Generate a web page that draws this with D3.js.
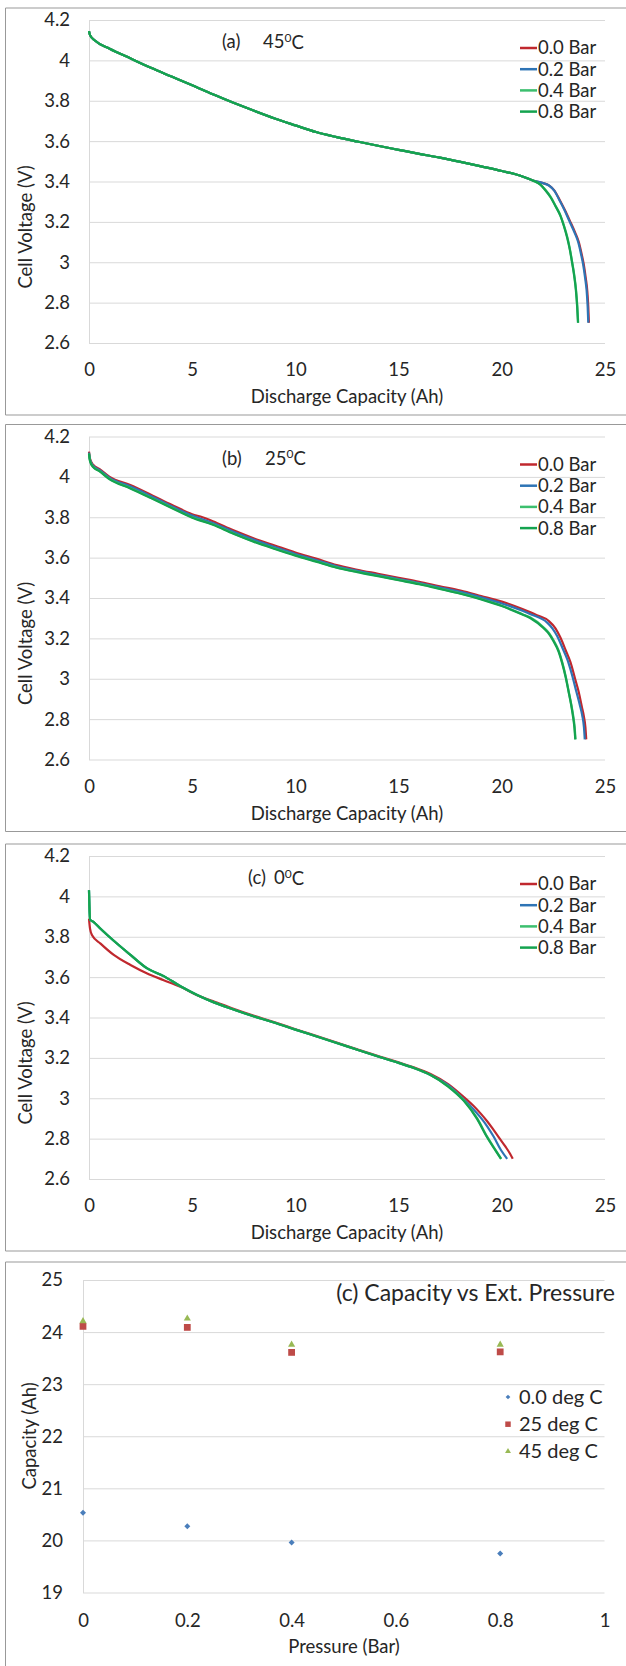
<!DOCTYPE html>
<html>
<head>
<meta charset="utf-8">
<script src="https://d3js.org/d3.v7.min.js"></script>
<style>
  body { margin: 0; background: #fff; }
  svg text { font-family: Lato, "Open Sans", sans-serif; fill: #262626; }
</style>
</head>
<body>
<svg id="chart" width="626" height="1666"></svg>
<script>
(function() {
  // {{{ data
  var pressureNames = ["0.0 Bar", "0.2 Bar", "0.4 Bar", "0.8 Bar"];
  var voltTicks = [2.6, 2.8, 3.0, 3.2, 3.4, 3.6, 3.8, 4.0, 4.2];
  var capTicks = [0, 5, 10, 15, 20, 25];

  // 45 C : [discharge capacity Ah, cell voltage V]
  var head45 = [[0,4.145],[0.05,4.125],[0.3,4.097],[1,4.058],[2,4.01],[3,3.963],[4,3.92],[5,3.877],[6,3.832],
    [7,3.79],[8,3.75],[9,3.712],[10,3.678],[11,3.645],[12,3.62],[13,3.598],[14,3.577],[15,3.557],
    [16,3.537],[17,3.518],[18,3.497],[19,3.475],[20,3.452],[21,3.425],[21.5,3.405]];
  var tail45_p00 = [[22,3.392],[22.3,3.38],[22.55,3.355],[22.8,3.31],[23.05,3.26],[23.3,3.205],[23.55,3.148],
    [23.73,3.10],[23.87,3.04],[23.97,2.99],[24.07,2.92],[24.14,2.86],[24.19,2.78],[24.22,2.70]];
  var tail45_p02 = [[22,3.392],[22.3,3.379],[22.55,3.354],[22.78,3.31],[23.03,3.26],[23.27,3.205],[23.52,3.148],
    [23.7,3.10],[23.84,3.04],[23.94,2.99],[24.04,2.92],[24.11,2.86],[24.16,2.78],[24.19,2.70]];
  var tail45_p04 = [[21.88,3.384],[22.1,3.36],[22.36,3.325],[22.6,3.28],[22.84,3.232],[23.0,3.185],[23.17,3.126],
    [23.3,3.065],[23.41,3.0],[23.52,2.93],[23.6,2.86],[23.66,2.78],[23.7,2.70]];
  var tail45_p08 = [[21.88,3.383],[22.1,3.358],[22.36,3.322],[22.6,3.278],[22.84,3.23],[23.0,3.182],[23.17,3.12],
    [23.3,3.06],[23.41,2.995],[23.51,2.93],[23.59,2.86],[23.65,2.78],[23.69,2.70]];

  // 25 C
  var v25_p00 = [[0,4.125],[0.05,4.09],[0.2,4.06],[0.5,4.04],[1,4.0],[2,3.96],[3,3.912],[4,3.862],[5,3.815],
    [5.5,3.80],[6,3.78],[7,3.735],[8,3.695],[9,3.66],[10,3.625],[11,3.595],[12,3.563],[13,3.54],[14,3.52],
    [15,3.50],[16,3.48],[17,3.458],[18,3.437],[19,3.41],[20,3.382],[21,3.345],[21.7,3.315],[22.28,3.286],
    [22.6,3.25],[22.84,3.204],[23.1,3.14],[23.33,3.081],[23.55,3.0],[23.73,2.933],[23.88,2.86],[23.97,2.817],
    [24.05,2.76],[24.09,2.70]];
  var v25_p02 = [[0,4.12],[0.05,4.085],[0.2,4.055],[0.5,4.035],[1,3.995],[2,3.953],[3,3.905],[4,3.855],[5,3.808],
    [6,3.772],[7,3.728],[8,3.688],[9,3.652],[10,3.618],[11,3.588],[12,3.557],[13,3.535],[14,3.514],[15,3.494],
    [16,3.474],[17,3.452],[18,3.43],[19,3.403],[20,3.373],[21,3.337],[21.39,3.32],[22.2,3.278],[22.45,3.25],
    [22.68,3.212],[22.95,3.15],[23.17,3.097],[23.4,3.02],[23.62,2.933],[23.78,2.87],[23.9,2.817],[23.98,2.76],
    [24.02,2.70]];
  var v25_p04 = [[0,4.115],[0.05,4.08],[0.2,4.05],[0.5,4.03],[1,3.99],[2,3.945],[3,3.897],[4,3.848],[5,3.80],
    [6,3.765],[7,3.72],[8,3.68],[9,3.645],[10,3.612],[11,3.582],[12,3.552],[13,3.53],[14,3.51],[15,3.49],
    [16,3.47],[17,3.447],[18,3.423],[19,3.395],[20,3.362],[21,3.32],[21.39,3.303],[22.03,3.254],[22.3,3.225],
    [22.52,3.188],[22.75,3.14],[22.93,3.081],[23.1,3.01],[23.25,2.933],[23.37,2.87],[23.46,2.817],[23.53,2.76],
    [23.57,2.70]];
  var v25_p08 = [[0,4.115],[0.05,4.078],[0.2,4.048],[0.5,4.028],[1,3.988],[2,3.943],[3,3.895],[4,3.846],[5,3.798],
    [6,3.763],[7,3.718],[8,3.678],[9,3.643],[10,3.61],[11,3.58],[12,3.55],[13,3.528],[14,3.508],[15,3.488],
    [16,3.468],[17,3.445],[18,3.421],[19,3.393],[20,3.36],[21,3.318],[21.39,3.3],[22.03,3.25],[22.3,3.22],
    [22.52,3.183],[22.75,3.135],[22.93,3.075],[23.1,3.005],[23.25,2.928],[23.37,2.865],[23.45,2.812],[23.52,2.755],
    [23.56,2.70]];

  // 0 C
  var v0_p00 = [[0,3.89],[0.05,3.84],[0.15,3.807],[0.56,3.766],[1.2,3.71],[2.01,3.66],[2.82,3.618],[3.62,3.585],
    [4.43,3.552],[5.24,3.51],[6,3.482],[7,3.443],[8,3.408],[9,3.376],[10,3.342],[11,3.309],[12,3.276],[13,3.242],
    [14.12,3.205],[15,3.178],[15.74,3.153],[16.55,3.12],[17.4,3.07],[18.16,3.006],[18.6,2.965],[18.97,2.925],
    [19.3,2.885],[19.61,2.842],[19.9,2.80],[20.18,2.76],[20.4,2.725],[20.53,2.70]];
  var head0 = [[0,4.03],[0.02,3.95],[0.05,3.885],[0.23,3.873],[0.56,3.84],[1.2,3.78],[2.01,3.71],[2.82,3.643],
    [3.62,3.605],[4.43,3.555],[5.24,3.512],[6.05,3.475],[7,3.44],[8,3.405],[9,3.374],[10,3.34],[11,3.307],
    [12,3.274],[13,3.24],[14.12,3.203],[15,3.175],[15.74,3.15],[16.55,3.115]];
  var tail0_p02 = [[17.4,3.065],[18.16,2.994],[18.97,2.905],[19.3,2.86],[19.61,2.809],[19.95,2.745],[20.26,2.70]];
  var tail0_p04 = [[17.4,3.06],[18.16,2.99],[18.81,2.90],[19.29,2.81],[19.7,2.743],[19.97,2.70]];
  var tail0_p08 = [[17.4,3.058],[18.16,2.987],[18.8,2.898],[19.28,2.808],[19.69,2.742],[19.96,2.70]];

  // capacity vs external pressure
  var pressureBar = [0, 0.2, 0.4, 0.8];
  var cap0C = [20.53, 20.27, 19.96, 19.75];
  var cap25C = [24.11, 24.09, 23.61, 23.62];
  var cap45C = [24.21, 24.26, 23.76, 23.76];
  var capNames = ["0.0 deg C", "25 deg C", "45 deg C"];
  var capAxisTicks = [19, 20, 21, 22, 23, 24, 25];
  var pressTicks = [0, 0.2, 0.4, 0.6, 0.8, 1];
  // }}}

  var lineColors = ["#c0282e", "#2e74b5", "#3cbf6e", "#14a34f"];
  var markColors = ["#4a7ebb", "#be4b48", "#98b954"];
  var GRID = "#d9d9d9";
  var FS = 18.5;

  var svg = d3.select("#chart");

  // plain number labels: 4.2, 4, 3.8 ... 0.2, 1
  function plainNum(d) { return String(+d.toFixed(1)); }

  function drawFrame(top, height) {
    var d = "M626," + (top + 0.5) + "H5.5V" + (top + height + 0.5);
    if (top + height < 1666) d += "H626";
    svg.append("path").attr("d", d)
      .attr("fill", "none").attr("stroke", "#999").attr("stroke-width", 1);
  }

  function styleAxis(g) {
    g.attr("font-size", FS).attr("font-family", "Lato, 'Open Sans', sans-serif");
    g.selectAll(".tick line").attr("stroke", GRID);
    g.select(".domain").attr("stroke", GRID);
    g.selectAll("text").attr("fill", "#262626");
  }

  // {{{ discharge panels
  function drawDischarge(frameTop, curves, tag, temp, tagX, tempX) {
    var top = frameTop + 12.5, bottom = top + 323;
    var x = d3.scaleLinear().domain([0, 25]).range([89, 605]);
    var y = d3.scaleLinear().domain([2.6, 4.2]).range([bottom, top]);

    drawFrame(frameTop, 407);

    svg.append("g")
      .attr("transform", "translate(89,0)")
      .call(d3.axisLeft(y).tickValues(voltTicks).tickSize(-516).tickSizeOuter(0).tickPadding(19)
        .tickFormat(plainNum))
      .call(styleAxis);

    svg.append("g")
      .attr("transform", "translate(0," + bottom + ")")
      .call(d3.axisBottom(x).tickValues(capTicks).tickSize(0).tickPadding(20).tickFormat(plainNum))
      .call(styleAxis)
      .call(function(g) { g.select(".domain").remove(); });

    var line = d3.line()
      .x(function(d) { return x(d[0]); })
      .y(function(d) { return y(d[1]); })
      .curve(d3.curveMonotoneX);

    svg.append("g").selectAll("path")
      .data(curves)
      .join("path")
      .attr("d", line)
      .attr("fill", "none")
      .attr("stroke", function(d, i) { return lineColors[i]; })
      .attr("stroke-width", 2.2)
      .attr("stroke-linejoin", "round");

    // legend
    var leg = svg.append("g").selectAll("g")
      .data(pressureNames)
      .join("g")
      .attr("transform", function(d, i) { return "translate(520," + (top + 28 + i * 21.2) + ")"; });
    leg.append("line")
      .attr("x1", 0).attr("x2", 17)
      .attr("stroke", function(d, i) { return lineColors[i]; })
      .attr("stroke-width", 2.5);
    leg.append("text")
      .attr("x", 18).attr("dy", "0.35em")
      .attr("font-size", FS)
      .text(function(d) { return d; });

    // panel tag, e.g. (a) 45 oC
    var t = svg.append("text")
      .attr("y", top + 22).attr("dy", "0.35em")
      .attr("font-size", FS);
    t.append("tspan").attr("x", tagX).text(tag);
    t.append("tspan").attr("x", tempX).text(temp);
    t.append("tspan").attr("font-size", 12).attr("dy", "-0.55em").text("0");
    t.append("tspan").attr("dy", "0.38em").text("C");

    svg.append("text")
      .attr("transform", "translate(26," + (top + 207) + ") rotate(-90)")
      .attr("text-anchor", "middle").attr("dy", "0.35em")
      .attr("font-size", FS)
      .text("Cell Voltage (V)");

    svg.append("text")
      .attr("x", 347).attr("y", top + 377).attr("dy", "0.35em")
      .attr("text-anchor", "middle")
      .attr("font-size", FS)
      .text("Discharge Capacity (Ah)");
  }

  drawDischarge(7.5, [head45.concat(tail45_p00), head45.concat(tail45_p02),
    head45.concat(tail45_p04), head45.concat(tail45_p08)], "(a)", "45", 222, 263);
  drawDischarge(424, [v25_p00, v25_p02, v25_p04, v25_p08], "(b)", "25", 222, 265);
  drawDischarge(843.5, [v0_p00, head0.concat(tail0_p02), head0.concat(tail0_p04),
    head0.concat(tail0_p08)], "(c)", "0", 248, 274);
  // }}}

  // {{{ capacity vs pressure
  (function() {
    var frameTop = 1261.5;
    drawFrame(frameTop, 420);
    var x = d3.scaleLinear().domain([0, 1]).range([83, 604.5]);
    var y = d3.scaleLinear().domain([19, 25]).range([1592.5, 1280]);

    svg.append("g")
      .attr("transform", "translate(83,0)")
      .call(d3.axisLeft(y).tickValues(capAxisTicks).tickSize(-521.5).tickSizeOuter(0).tickPadding(20)
        .tickFormat(plainNum))
      .call(styleAxis);

    svg.append("g")
      .attr("transform", "translate(0,1592.5)")
      .call(d3.axisBottom(x).tickValues(pressTicks).tickSize(0).tickPadding(21).tickFormat(plainNum))
      .call(styleAxis)
      .call(function(g) { g.select(".domain").remove(); });

    var symbols = [
      d3.symbol().type(d3.symbolSquare).size(18),
      d3.symbol().type(d3.symbolSquare).size(46),
      d3.symbol().type(d3.symbolTriangle).size(22)
    ];
    var legSymbols = [
      d3.symbol().type(d3.symbolSquare).size(11),
      d3.symbol().type(d3.symbolSquare).size(30),
      d3.symbol().type(d3.symbolTriangle).size(15)
    ];
    var rot = [45, 0, 0];
    var sets = [cap0C, cap25C, cap45C];

    sets.forEach(function(vals, s) {
      svg.append("g").selectAll("path")
        .data(vals)
        .join("path")
        .attr("d", symbols[s])
        .attr("fill", markColors[s])
        .attr("transform", function(d, i) {
          return "translate(" + x(pressureBar[i]) + "," + y(d) + ") rotate(" + rot[s] + ")";
        });
    });

    var leg = svg.append("g").selectAll("g")
      .data(capNames)
      .join("g")
      .attr("transform", function(d, i) { return "translate(508," + (1397 + i * 27.2) + ")"; });
    leg.append("path")
      .attr("d", function(d, i) { return legSymbols[i](); })
      .attr("fill", function(d, i) { return markColors[i]; })
      .attr("transform", function(d, i) { return "rotate(" + rot[i] + ")"; });
    leg.append("text")
      .attr("x", 11).attr("dy", "0.35em")
      .attr("font-size", 20)
      .text(function(d) { return d; });

    svg.append("text")
      .attr("x", 615).attr("y", 1293).attr("dy", "0.35em")
      .attr("text-anchor", "end")
      .attr("font-size", 23)
      .text("(c) Capacity vs Ext. Pressure");

    svg.append("text")
      .attr("transform", "translate(30,1436) rotate(-90)")
      .attr("text-anchor", "middle").attr("dy", "0.35em")
      .attr("font-size", FS)
      .text("Capacity (Ah)");

    svg.append("text")
      .attr("x", 344).attr("y", 1647).attr("dy", "0.35em")
      .attr("text-anchor", "middle")
      .attr("font-size", FS)
      .text("Pressure (Bar)");
  })();
  // }}}
})();
</script>
</body>
</html>
